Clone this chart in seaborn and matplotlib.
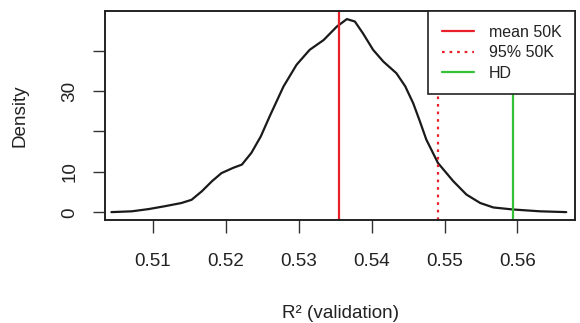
import matplotlib
matplotlib.use("Agg")
import matplotlib.pyplot as plt
import seaborn as sns
import pandas as pd

# density of validation R^2
r2_values = [0.5043, 0.5071, 0.5094, 0.5116, 0.5139, 0.5153, 0.5167, 0.5181,
             0.5194, 0.5210, 0.5222, 0.5235, 0.5248, 0.5260, 0.5279, 0.5297,
             0.5315, 0.5334, 0.5352, 0.5366, 0.5377, 0.5388, 0.5402, 0.5416,
             0.5434, 0.5446, 0.5457, 0.5466, 0.5475, 0.5491, 0.5512, 0.5530,
             0.5549, 0.5567, 0.5594, 0.5631, 0.5667]
density = [0.05, 0.25, 0.8, 1.5, 2.3, 3.1, 5.2, 7.7,
           9.7, 11.0, 11.8, 14.7, 18.8, 23.7, 31.1, 36.5,
           40.2, 42.6, 45.9, 47.8, 47.2, 44.3, 40.2, 37.3,
           34.4, 31.2, 27.0, 22.6, 18.0, 12.2, 7.7, 4.4,
           2.3, 1.2, 0.7, 0.25, 0.05]

mean_50k = 0.5355
q95_50k = 0.5491
hd = 0.5594

x_ticks = [0.51, 0.52, 0.53, 0.54, 0.55, 0.56]
y_ticks = [0, 10, 20, 30, 40]
y_tick_labels = ["0", "10", "", "30", ""]

sns.set_style("white")
plt.rcParams["font.family"] = ["Liberation Sans", "DejaVu Sans"]

df = pd.DataFrame({"r2": r2_values, "density": density})

fig = plt.figure(figsize=(5.8, 3.23), dpi=100)
ax = fig.add_axes([105 / 580, 1 - 220 / 323, 470 / 580, 209 / 323])

sns.lineplot(data=df, x="r2", y="density", ax=ax, color="#1a1a1a", lw=1.6,
             sort=False)
ax.axvline(mean_50k, color="#e8202a", lw=1.6, label="mean 50K")
ax.axvline(q95_50k, color="#e8202a", lw=1.6, ls=(0, (1.2, 2.2)), label="95% 50K")
ax.axvline(hd, color="#35c035", lw=1.6, label="HD")

ax.set_xlim(0.50342, 0.5679)
ax.set_ylim(-1.9, 49.8)
ax.set_xticks(x_ticks)
ax.set_xticklabels([f"{t:.2f}" for t in x_ticks])
ax.set_yticks(y_ticks)
ax.set_yticklabels(y_tick_labels, rotation=90, va="center")

ax.tick_params(axis="both", which="both", direction="out", length=9,
               width=1.0, color="#333333", labelsize=13.6, labelcolor="#222222")
ax.tick_params(axis="x", pad=15, bottom=True)
ax.tick_params(axis="y", pad=10, left=True)

for s in ax.spines.values():
    s.set_color("#222222")
    s.set_linewidth(1.4)

ax.set_xlabel("R² (validation)", fontsize=13.6, color="#222222")
ax.set_ylabel("Density", fontsize=13.6, color="#222222")
ax.xaxis.set_label_coords(0.5, (220 - 305) / 209)
ax.yaxis.set_label_coords((29 - 105) / 470, 0.5)

leg = ax.legend(loc="upper right", borderaxespad=0, fancybox=False,
                fontsize=11.5, handlelength=2.0, handletextpad=0.95,
                labelspacing=0.35, borderpad=0.85, framealpha=1)
leg.get_frame().set_edgecolor("#222222")
leg.get_frame().set_linewidth(1.2)
for t in leg.get_texts():
    t.set_color("#222222")

fig.savefig("out.png", dpi=100)
